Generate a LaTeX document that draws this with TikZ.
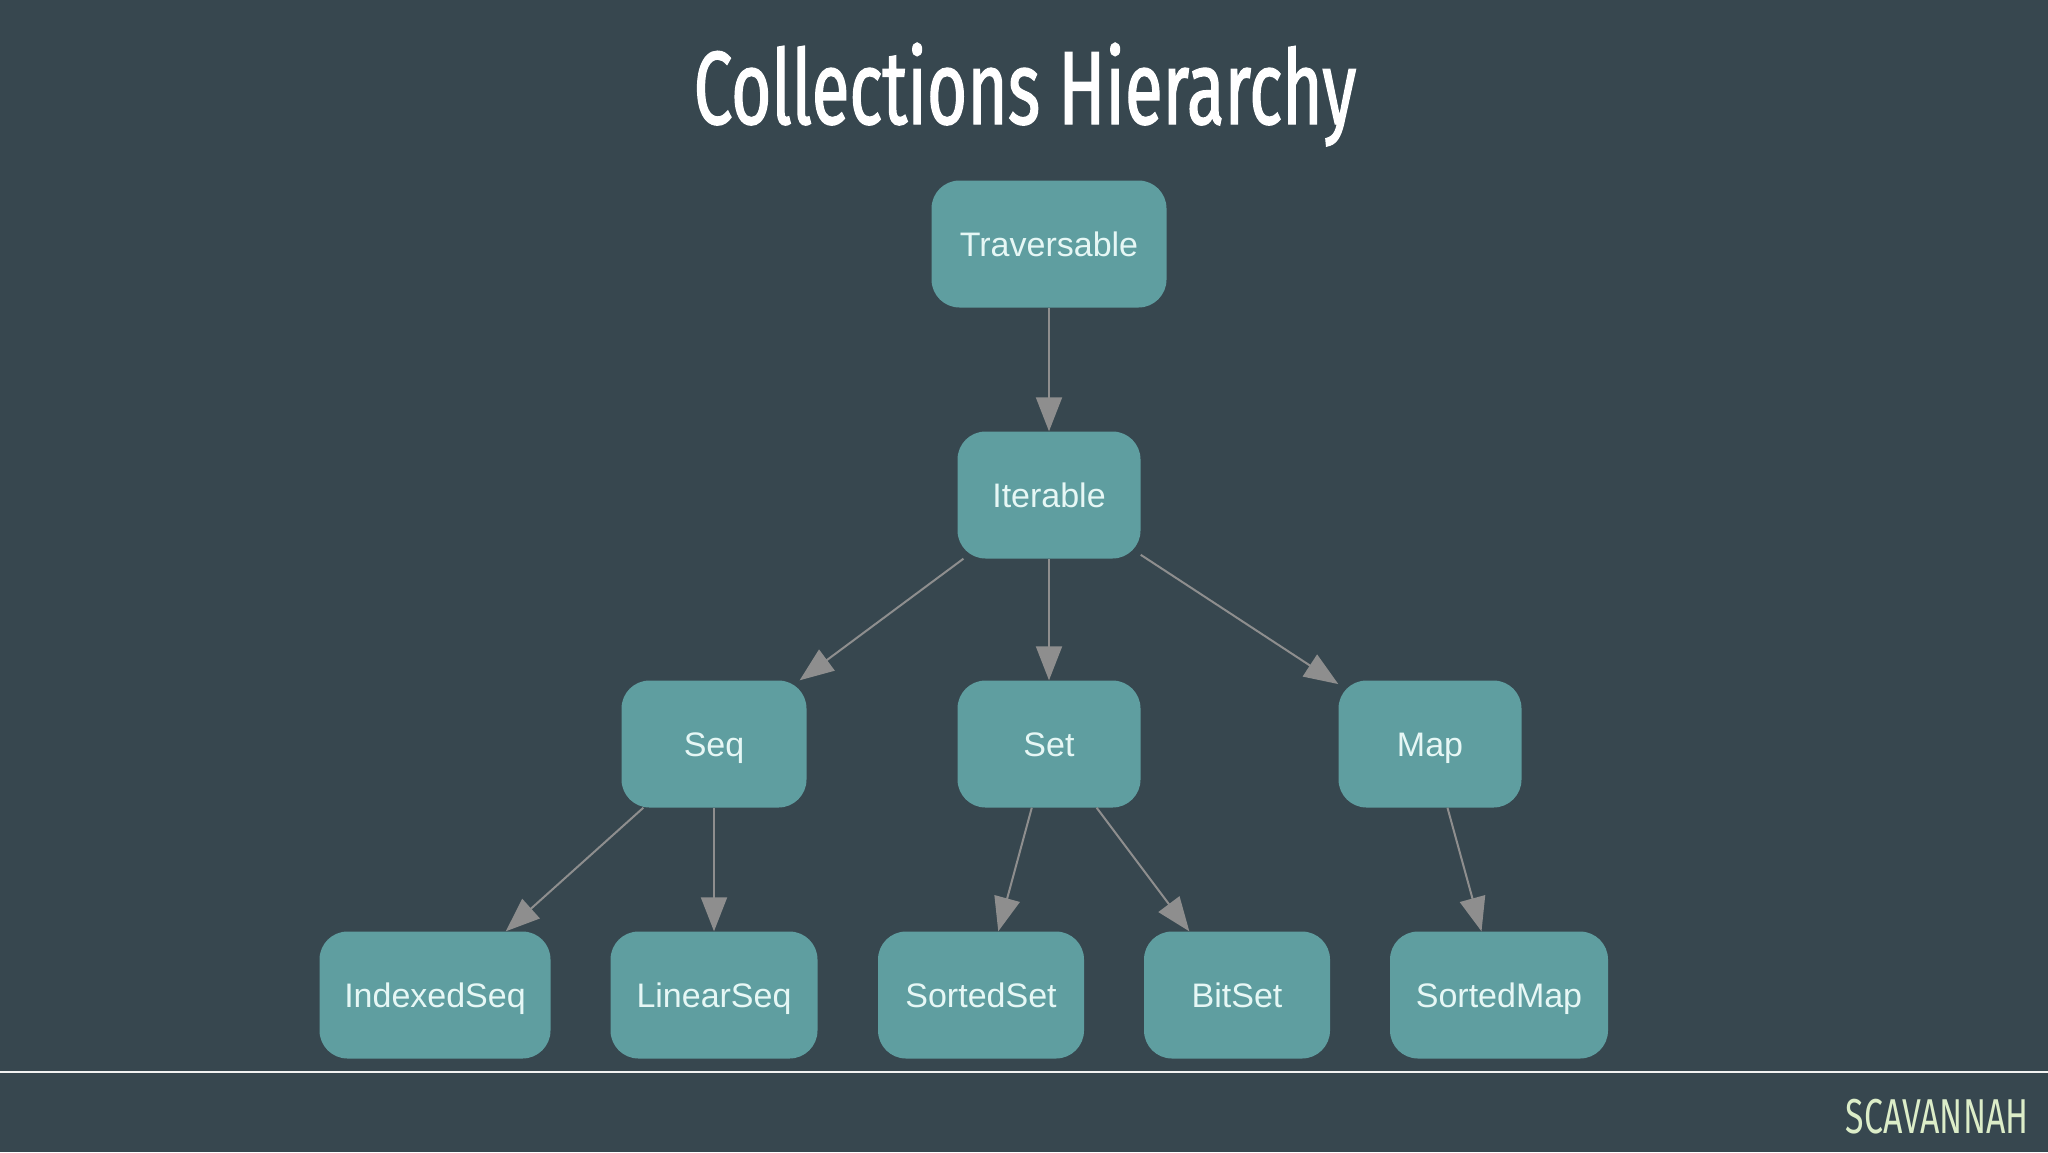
\documentclass[tikz,border=0pt]{standalone}
\usepackage{fontspec}
\setmainfont{Liberation Sans}
\newfontfamily\titlefont[FakeStretch=0.665,FakeBold=1.2]{Fira Sans}
\newfontfamily\brandfont[FakeStretch=0.69]{Fira Sans}
\usetikzlibrary{arrows.meta}
\definecolor{bg}{HTML}{37474F}
\definecolor{nodefill}{HTML}{5F9EA0}
\definecolor{nodetext}{HTML}{E6F7F5}
\definecolor{edgegray}{HTML}{8E8E8E}
\definecolor{brand}{HTML}{DCEDC8}
\begin{document}
\begin{tikzpicture}[x=1pt,y=-1pt,
  box/.style={draw=none, fill=nodefill, rounded corners=28pt, minimum height=127pt,
    inner sep=0pt, text height=24pt, text depth=0pt,
    font=\fontsize{34}{38}\selectfont, text=nodetext},
  edge/.style={draw=edgegray, line width=2pt, -{Triangle[length=34pt,width=26pt]}}]
\fill[bg] (0,0) rectangle (2048,1152);
\useasboundingbox (0,0) rectangle (2048,1152);
\node[font=\titlefont\fontsize{104}{110}\selectfont, text=white, anchor=base] (title) at (1025,124) {Collections Hierarchy};
\node[box, minimum width=235pt] (trav) at (1049,244) {Traversable};
\node[box, minimum width=183pt] (iter) at (1049,495) {Iterable};
\node[box, minimum width=185pt] (seq)  at (714,744) {Seq};
\node[box, minimum width=183pt] (set)  at (1049,744) {Set};
\node[box, minimum width=183pt] (map)  at (1430,744) {Map};
\node[box, minimum width=231pt] (iseq) at (435,995) {IndexedSeq};
\node[box, minimum width=207pt] (lseq) at (714,995) {LinearSeq};
\node[box, minimum width=206pt] (sset) at (981,995) {SortedSet};
\node[box, minimum width=186pt] (bset) at (1237,995) {BitSet};
\node[box, minimum width=218pt] (smap) at (1499,995) {SortedMap};
\draw[edge] (trav) -- (iter);
\draw[edge] (iter) -- (seq);
\draw[edge] (iter) -- (set);
\draw[edge] (iter) -- (map);
\draw[edge] (seq) -- (iseq);
\draw[edge] (seq) -- (lseq);
\draw[edge] (set) -- (sset);
\draw[edge] (set) -- (bset);
\draw[edge] (map) -- (smap);
\coordinate (lineL) at (0,1072);
\coordinate (lineR) at (2048,1072);
\draw[white!90!gray, line width=2.5pt] (lineL) -- (lineR);
\node[font=\brandfont\fontsize{49}{54}\selectfont, text=brand, anchor=base east] (brandname) at (2032,1133) {SCAVANNAH};
\end{tikzpicture}
\end{document}
